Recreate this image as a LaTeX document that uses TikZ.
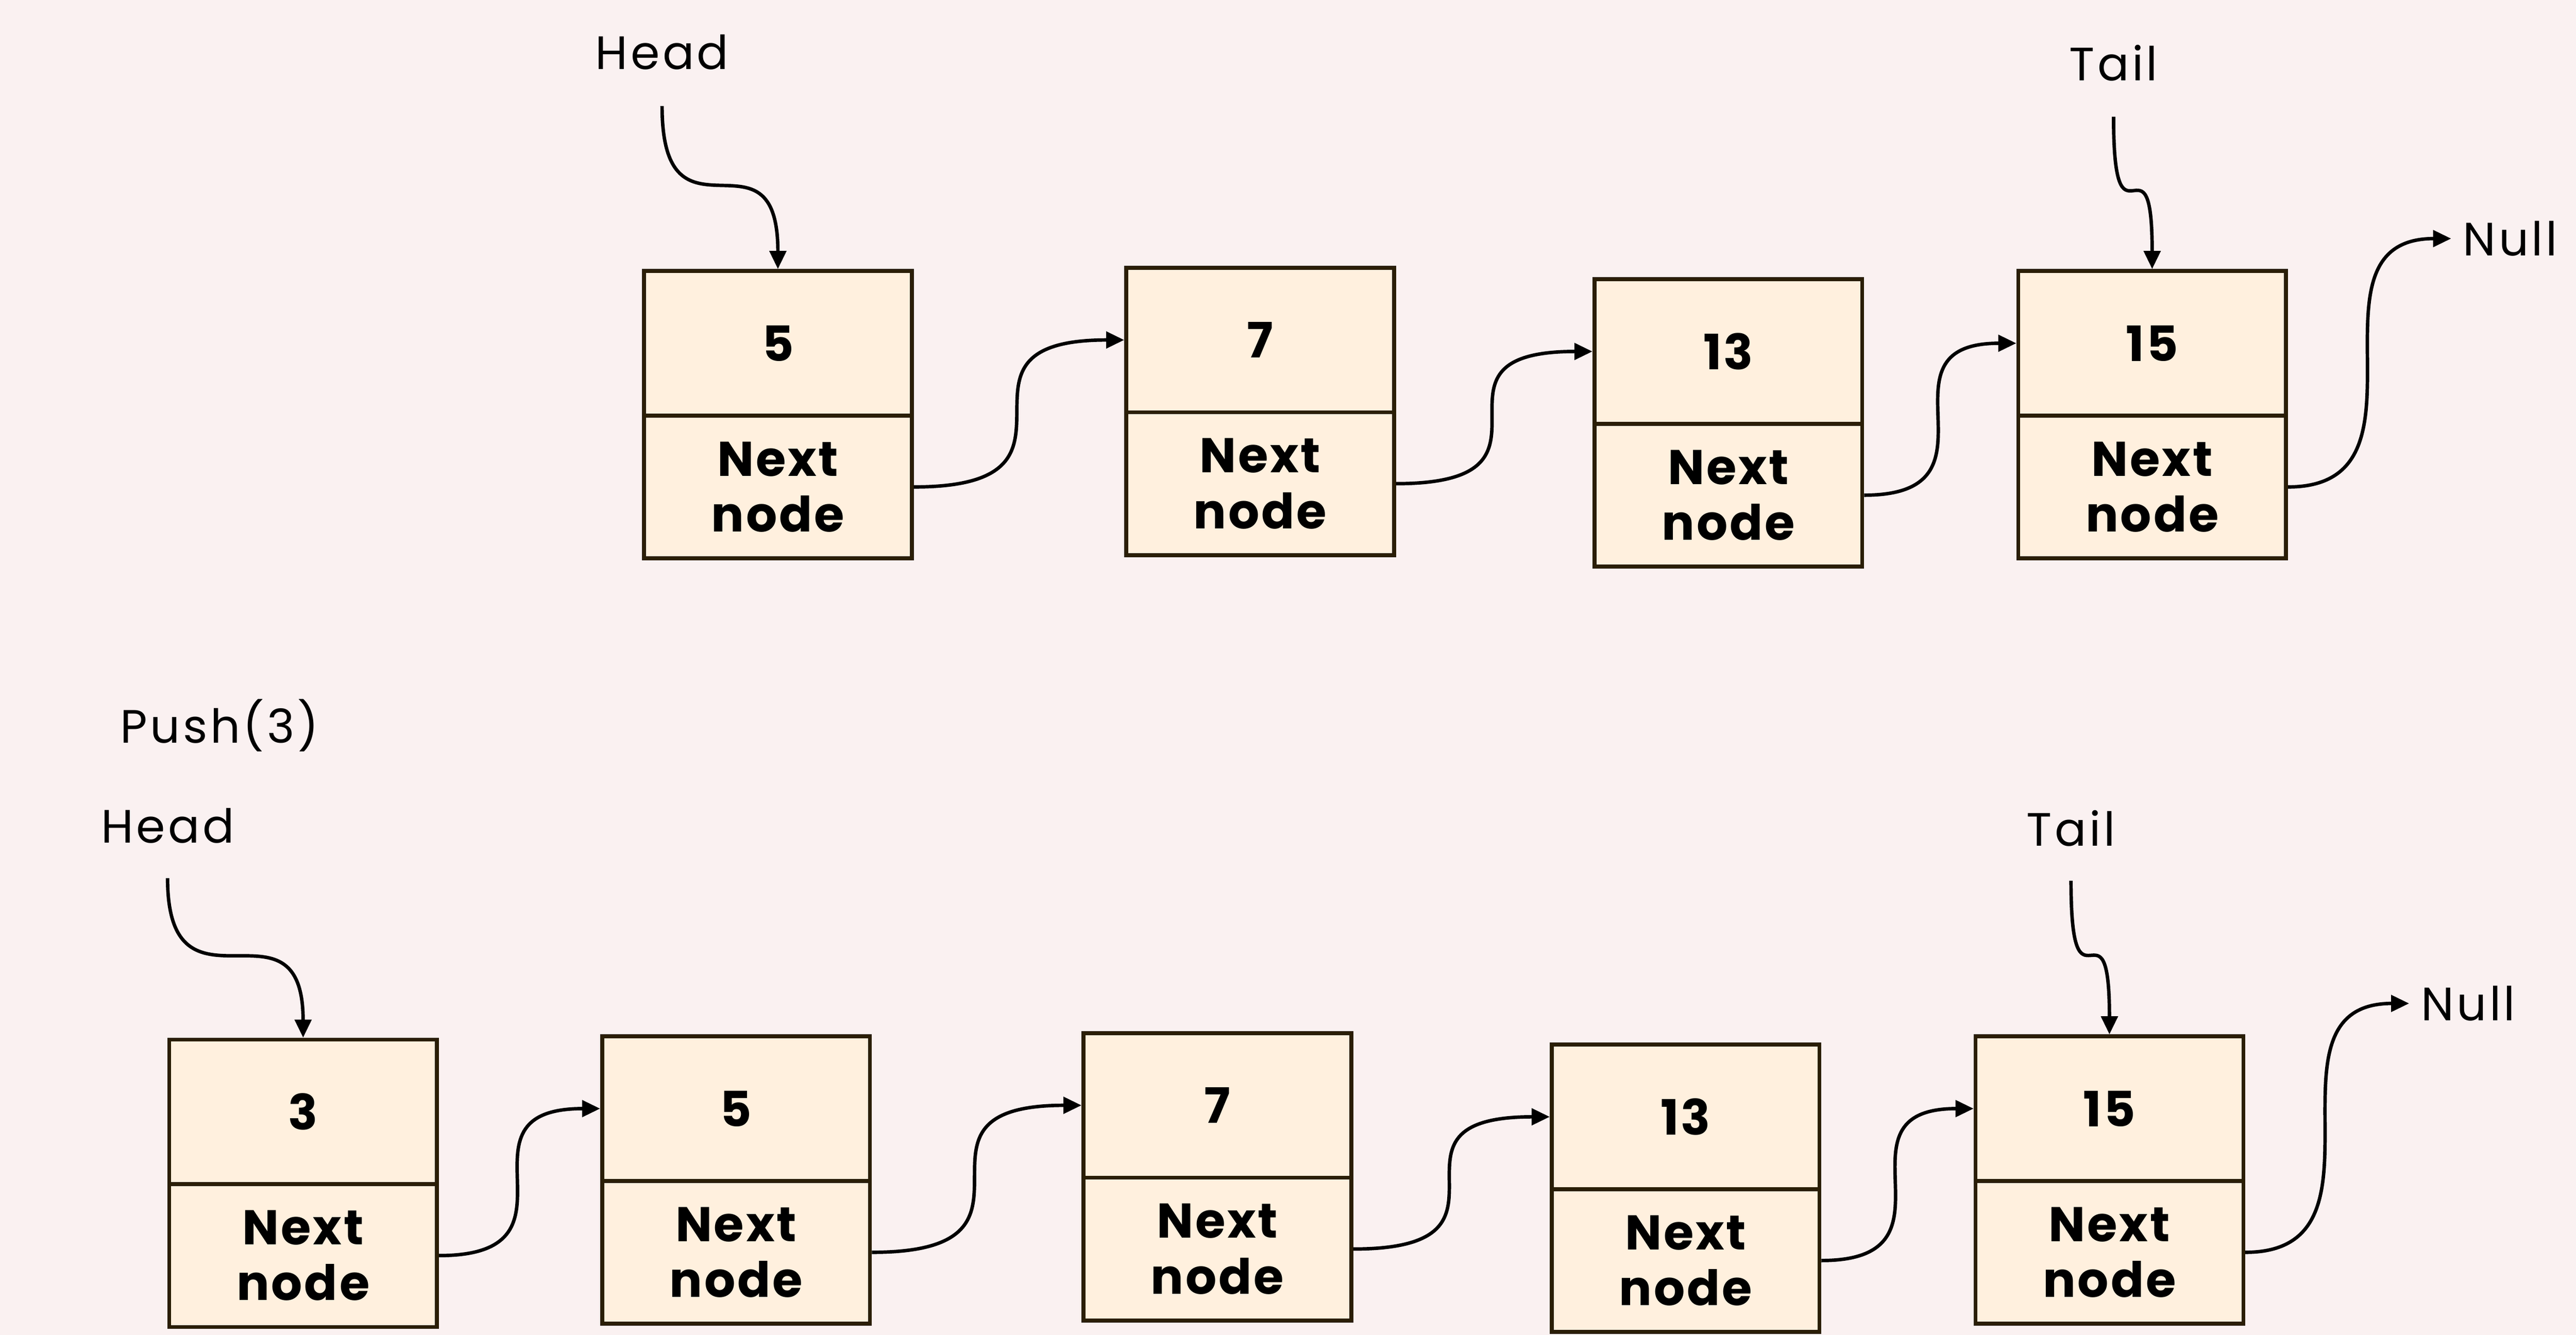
\documentclass[tikz,border=0pt]{standalone}
\usepackage{fontspec}
\setmainfont{Poppins}
\newfontfamily\lblfont{Poppins}[LetterSpace=6]
\newfontfamily\cellfont{Poppins}[LetterSpace=4]
\usetikzlibrary{arrows.meta}
\definecolor{bgcol}{RGB}{250,241,241}
\definecolor{cellfill}{RGB}{255,240,222}
\definecolor{cellline}{RGB}{42,30,6}
\newcommand\llcell[4]{%
  \node[valcell] (v#1) at (#2,#3+44) {#4};
  \node[nextcell] (n#1) at (#2,#3+131.5) {Next\\node};}
\begin{document}
\begin{tikzpicture}[x=1pt,y=-1pt,
  cell/.style={draw=cellline, line width=2.4pt, fill=cellfill, minimum width=163pt,
    inner sep=0pt, align=center, font=\cellfont\bfseries\fontsize{29.7}{34}\selectfont},
  valcell/.style={cell, minimum height=88pt},
  nextcell/.style={cell, minimum height=87pt},
  lbl/.style={font=\lblfont\fontsize{28.5}{34}\selectfont, inner sep=0pt, anchor=base},
  nulllbl/.style={lbl, anchor=base west, inner xsep=7pt},
  ptr/.style={line width=2.1pt, draw=black, -{Triangle[length=11pt,width=10pt]}},
  link/.style={ptr, out=0, in=180, distance=#1pt},
  drop/.style={ptr, out=-90, in=90, distance=#1pt}]
\fill[bgcol] (0,0) rectangle (1568,812.69);
% top list
\llcell{a1}{473.5}{165}{5}
\llcell{a2}{767}{163}{7}
\llcell{a3}{1052}{170}{13}
\llcell{a4}{1310}{165}{15}
\node[lbl, outer ysep=22pt] (headA) at (403,42.3) {Head};
\node[lbl, outer ysep=21.8pt] (tailA) at (1286.5,49) {Tail};
\node[nulllbl] (nullA) at (1492,155.7) {Null};
\draw[drop=92] (headA.south) to (va1.north);
\draw[drop=90] (tailA.south) to (va4.north);
\draw[link=122] (na1.east) to (va2.west);
\draw[link=115] (na2.east) to (va3.west);
\draw[link=90] (na3.east) to (va4.west);
\draw[link=95] (na4.east) to (nullA.west);
% bottom list
\llcell{b1}{184.5}{633}{3}
\llcell{b2}{448}{631}{5}
\llcell{b3}{741}{629}{7}
\llcell{b4}{1026}{636}{13}
\llcell{b5}{1284}{631}{15}
\node[lbl] (push) at (133.7,452.3) {Push(3)};
\node[lbl, outer ysep=21.3pt] (headB) at (102,513.2) {Head};
\node[lbl, outer ysep=21pt] (tailB) at (1260.6,515) {Tail};
\node[nulllbl] (nullB) at (1466.4,621.4) {Null};
\draw[drop=92] (headB.south) to (vb1.north);
\draw[drop=90] (tailB.south) to (vb5.north);
\draw[link=95] (nb1.east) to (vb2.west);
\draw[link=122] (nb2.east) to (vb3.west);
\draw[link=115] (nb3.east) to (vb4.west);
\draw[link=90] (nb4.east) to (vb5.west);
\draw[link=95] (nb5.east) to (nullB.west);
\end{tikzpicture}
\end{document}
